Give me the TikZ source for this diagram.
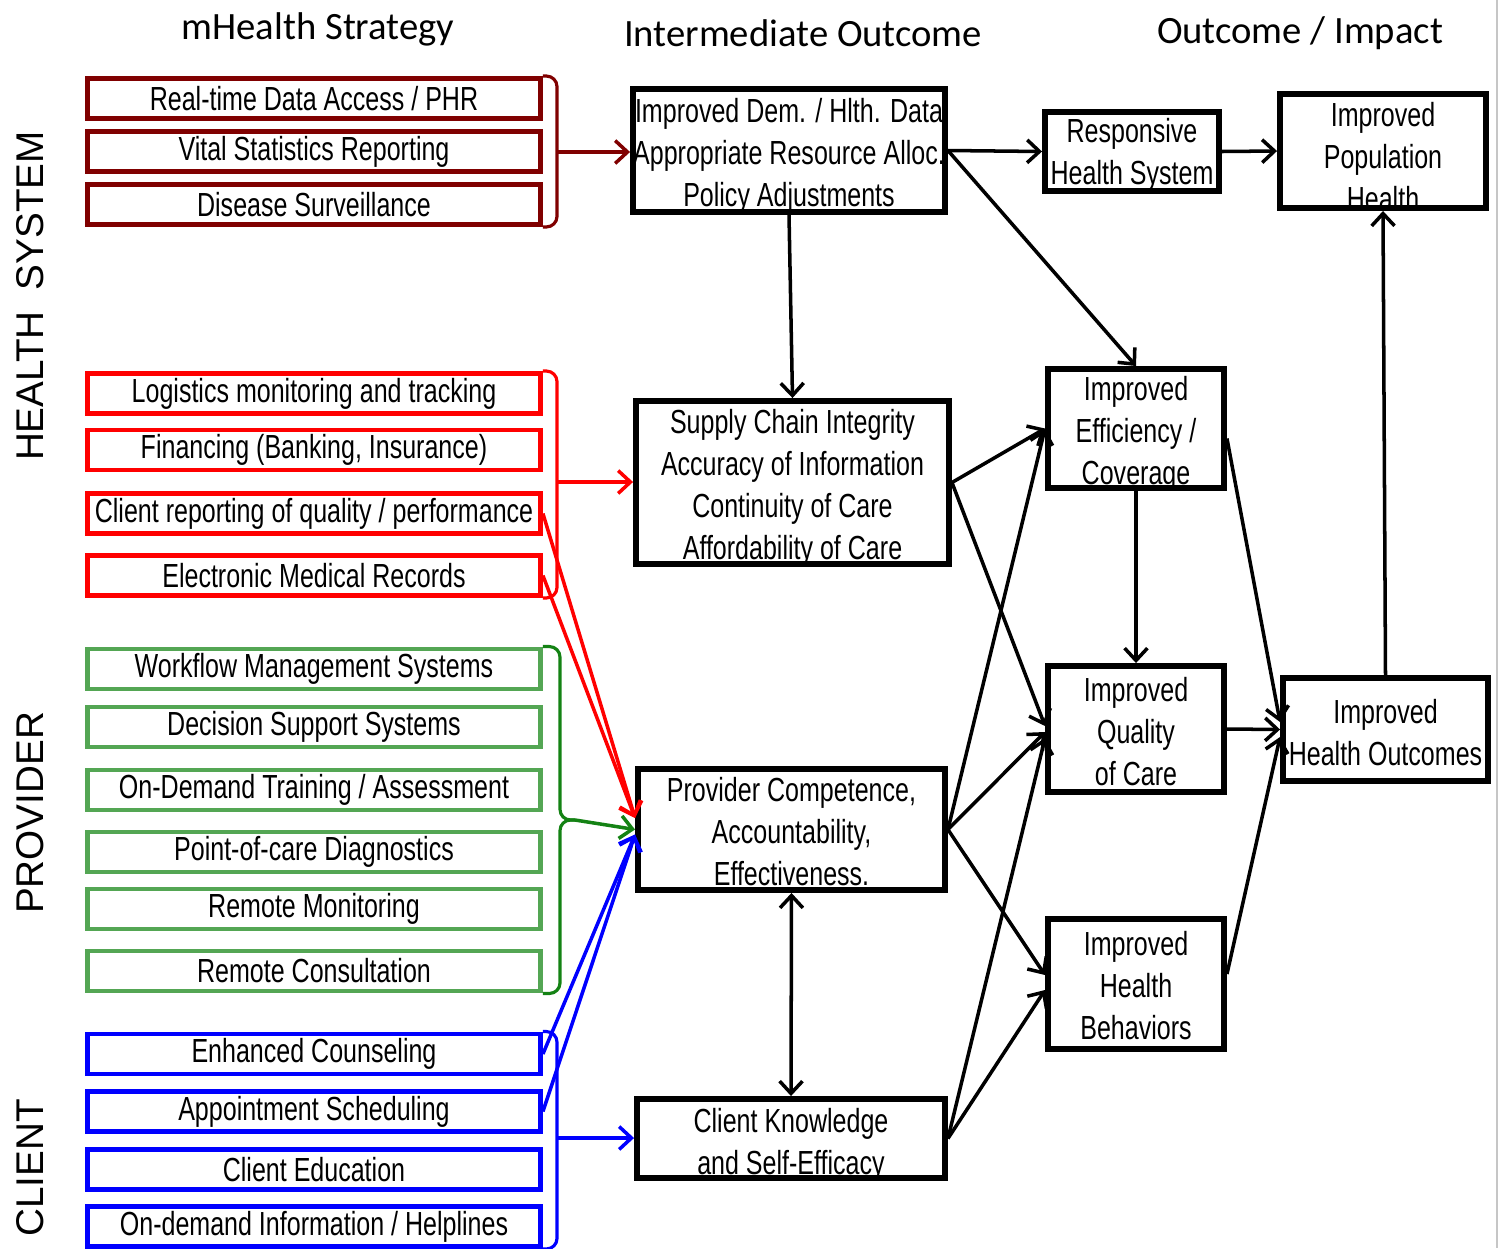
\documentclass[tikz,border=0pt]{standalone}
\usepackage{fontspec}
\usepackage{xcolor}
\usetikzlibrary{arrows.meta,positioning,calc}

\newfontfamily\boxfont[FakeStretch=0.75]{Liberation Sans}
\newfontfamily\headfont{Carlito}
\newfontfamily\sidefont{Liberation Sans}

\definecolor{hsred}{RGB}{128,0,0}
\definecolor{boxgreen}{RGB}{84,166,84}
\definecolor{bracegreen}{RGB}{20,130,20}

\tikzset{
  strat/.style={draw, line width=2.8pt, minimum width=9.06cm, minimum height=0.8cm,
    inner sep=0pt, font=\boxfont\fontsize{19}{23.8}\selectfont},
  midbox/.style={draw, line width=3.4pt, inner sep=0pt},
  boxtext/.style={inner sep=0pt, align=center, font=\boxfont\fontsize{19}{23.9}\selectfont},
  heading/.style={font=\headfont\fontsize{22}{26}\selectfont},
  side/.style={rotate=90, font=\sidefont\fontsize{22}{26}\selectfont},
  conn/.style={line width=2pt},
  brk/.style={line width=1.8pt, rounded corners=6pt},
}

\begin{document}
\begin{tikzpicture}[x=0.02cm, y=-0.02cm, >={Straight Barb[length=7pt,width=13pt]}]
            \useasboundingbox (0,0) rectangle (1501,1248);
            \draw[gray!45, line width=0.8pt] (1497,0) -- (1497,1248);

            % column headings and side labels
            \node[heading] at (318,29) (hstrat) {mHealth Strategy};
            \node[heading] at (803,33) (hinter) {Intermediate Outcome};
            \node[heading] at (1300,33) (himpact) {Outcome / Impact};
            \node[side] at (30,296) (lhealth) {HEALTH\hspace{0.55em}SYSTEM};
            \node[side] at (30,813) (lprov) {PROVIDER};
            \node[side] at (30,1168) (lclient) {CLIENT};

            % mHealth strategies
            \node[strat, draw=hsred] at (314,98.5) (rtd) {Real-time Data Access / PHR};
            \node[strat, draw=hsred] at (314,151.5) (vsr) {Vital Statistics Reporting};
            \node[strat, draw=hsred] at (314,204.5) (dsv) {Disease Surveillance};
            \node[strat, draw=red] at (314,393.5) (lgt) {Logistics monitoring and tracking};
            \node[strat, draw=red] at (314,450) (fin) {Financing (Banking, Insurance)};
            \node[strat, draw=red] at (314,513.5) (crq) {Client reporting of quality / performance};
            \node[strat, draw=red] at (314,575.5) (emr) {Electronic Medical Records};
            \node[strat, draw=boxgreen] at (314,669) (wfm) {Workflow Management Systems};
            \node[strat, draw=boxgreen] at (314,727) (dss) {Decision Support Systems};
            \node[strat, draw=boxgreen] at (314,790) (odt) {On-Demand Training / Assessment};
            \node[strat, draw=boxgreen] at (314,852) (poc) {Point-of-care Diagnostics};
            \node[strat, draw=boxgreen] at (314,909) (rmo) {Remote Monitoring};
            \node[strat, draw=boxgreen] at (314,971) (rco) {Remote Consultation};
            \node[strat, draw=blue] at (314,1054) (enc) {Enhanced Counseling};
            \node[strat, draw=blue] at (314,1111.5) (aps) {Appointment Scheduling};
            \node[strat, draw=blue] at (314,1169.5) (ced) {Client Education};
            \node[strat, draw=blue] at (314,1226.5) (odi) {On-demand Information / Helplines};

            % intermediate outcomes
            \node[midbox, minimum width=6.24cm, minimum height=2.46cm,
                label={[boxtext, name=hstxt, yshift=-0.1cm]center:{Improved Dem. / Hlth. Data\\Appropriate Resource Alloc.\\Policy Adjustments}}]
                at (789,150.5) (hsout) {};
            \node[midbox, minimum width=6.26cm, minimum height=3.26cm,
                label={[boxtext, name=supplytxt, yshift=-0.1cm]center:{Supply Chain Integrity\\Accuracy of Information\\Continuity of Care\\Affordability of Care}}]
                at (792.5,482.5) (supply) {};
            \node[midbox, minimum width=6.14cm, minimum height=2.42cm,
                label={[boxtext, name=provtxt, yshift=-0.05cm]center:{Provider Competence,\\Accountability,\\Effectiveness.}}]
                at (791.5,829.5) (prov) {};
            \node[midbox, minimum width=6.16cm, minimum height=1.58cm,
                label={[boxtext, name=clienttxt, yshift=-0.12cm]center:{Client Knowledge\\and Self-Efficacy}}]
                at (791,1138.5) (client) {};

            % outcomes / impact
            \node[midbox, minimum width=3.48cm, minimum height=1.58cm,
                label={[boxtext, name=resptxt, yshift=-0.07cm]center:{Responsive\\Health System}}]
                at (1132,151.5) (resp) {};
            \node[midbox, minimum width=4.12cm, minimum height=2.28cm,
                label={[boxtext, name=popntxt, yshift=-0.12cm]center:{Improved\\Population\\Health}}]
                at (1383,151) (popn) {};
            \node[midbox, minimum width=3.52cm, minimum height=2.38cm,
                label={[boxtext, name=efftxt, yshift=-0.1cm]center:{Improved\\Efficiency /\\Coverage}}]
                at (1136,428.5) (eff) {};
            \node[midbox, minimum width=3.52cm, minimum height=2.52cm,
                label={[boxtext, name=qualtxt, yshift=-0.06cm]center:{Improved\\Quality\\of Care}}]
                at (1136,729) (qual) {};
            \node[midbox, minimum width=3.52cm, minimum height=2.6cm,
                label={[boxtext, name=behavtxt, yshift=-0.04cm]center:{Improved\\Health\\Behaviors}}]
                at (1136,984) (behav) {};
            \node[midbox, minimum width=4.1cm, minimum height=2.06cm,
                label={[boxtext, name=outctxt, yshift=-0.06cm]center:{Improved\\Health Outcomes}}]
                at (1385.5,729.5) (outc) {};

            % brackets round the strategy groups
            \coordinate (hsbr) at (557,152);
            \coordinate (redbr) at (557,482);
            \coordinate (gtip) at (575,820);
            \coordinate (bluebr) at (557,1138);
            \draw[brk, hsred] (rtd.north east) -| (hsbr) |- (dsv.south east);
            \draw[brk, red] (lgt.north east) -| (redbr) |- (emr.south east);
            \draw[brk, bracegreen] (wfm.north east) -| (560,820) -- (gtip);
            \draw[brk, bracegreen] (rco.south east) -| (560,820) -- (gtip);
            \draw[brk, blue] (enc.north east) -| (bluebr) |- (odi.south east);

            \draw[conn, ->, hsred] (hsbr) -- (hsbr -| hsout.west);
            \draw[conn, ->, red] (redbr) -- (redbr -| supply.west);
            \draw[conn, ->, red] (crq.east) -- ([yshift=0.23cm]prov.west);
            \draw[conn, ->, red] (emr.east) -- ([yshift=0.23cm]prov.west);
            \draw[conn, ->, bracegreen] (gtip) -- (prov.west);
            \draw[conn, ->, blue] (enc.east) -- ([yshift=-0.1cm]prov.west);
            \draw[conn, ->, blue] (aps.east) -- ([yshift=-0.1cm]prov.west);
            \draw[conn, ->, blue] (bluebr) -- (bluebr -| client.west);

            % black links between outcomes
            \draw[conn, ->] (hsout.east) -- (resp.west);
            \draw[conn, ->] (hsout.east) -- (eff.north);
            \draw[conn, ->] (hsout.south) -- (supply.north);
            \draw[conn, ->] (resp.east) -- (popn.west);
            \draw[conn, ->] (supply.east) -- (eff.west);
            \draw[conn, ->] (supply.east) -- ([yshift=0.06cm]qual.west);
            \draw[conn, ->] (prov.east) -- (eff.west);
            \draw[conn, ->] (prov.east) -- ([yshift=-0.06cm]qual.west);
            \draw[conn, ->] (prov.east) -- ([yshift=0.18cm]behav.west);
            \draw[conn, ->] (client.east) -- ([yshift=-0.18cm]qual.west);
            \draw[conn, ->] (client.east) -- ([yshift=-0.12cm]behav.west);
            \draw[conn, <->] (prov.south) -- (client.north);
            \draw[conn, ->] (eff.south) -- (qual.north);
            \draw[conn, ->] ([yshift=-0.2cm]eff.east) -- ([yshift=0.15cm]outc.west);
            \draw[conn, ->] (qual.east) -- (outc.west);
            \draw[conn, ->] ([yshift=0.2cm]behav.east) -- ([yshift=-0.15cm]outc.west);
            \draw[conn, ->] (outc.north) -- (popn.south);
        \end{tikzpicture}
\end{document}
